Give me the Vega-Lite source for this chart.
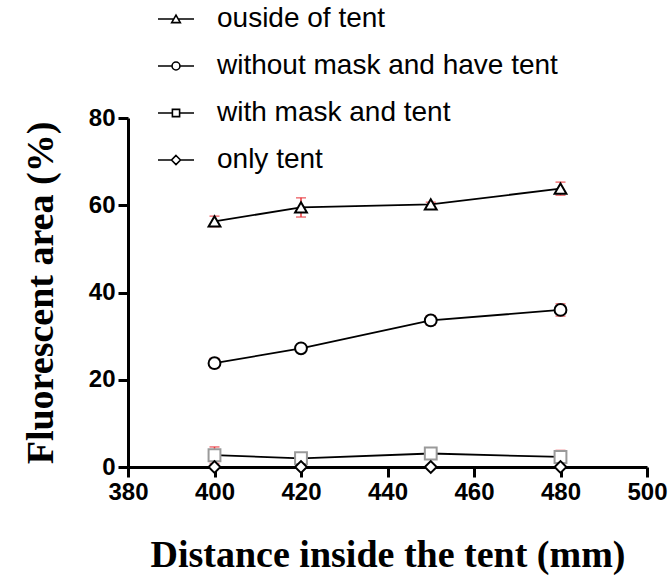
{
  "$schema": "https://vega.github.io/schema/vega-lite/v6.json",
  "width": 519,
  "height": 349,
  "autosize": {"type": "none"},
  "padding": {"left": 128, "top": 118, "right": 23, "bottom": 113},
  "background": "white",
  "config": {"view": {"stroke": null}, "font": "Liberation Sans"},
  "data": {
    "values": [
      {"series": "ouside of tent", "distance": 400, "mean": 56.3, "sd": 1.2},
      {"series": "ouside of tent", "distance": 420, "mean": 59.5, "sd": 2.2},
      {"series": "ouside of tent", "distance": 450, "mean": 60.2, "sd": 0.5},
      {"series": "ouside of tent", "distance": 480, "mean": 63.8, "sd": 1.5},
      {"series": "without mask and have tent", "distance": 400, "mean": 23.8, "sd": 1.1},
      {"series": "without mask and have tent", "distance": 420, "mean": 27.2, "sd": 0.5},
      {"series": "without mask and have tent", "distance": 450, "mean": 33.6, "sd": 1.1},
      {"series": "without mask and have tent", "distance": 480, "mean": 36.0, "sd": 1.4},
      {"series": "with mask and tent", "distance": 400, "mean": 2.7, "sd": 1.9},
      {"series": "with mask and tent", "distance": 420, "mean": 2.0, "sd": 0.3},
      {"series": "with mask and tent", "distance": 450, "mean": 3.1, "sd": 0.3},
      {"series": "with mask and tent", "distance": 480, "mean": 2.3, "sd": 1.5},
      {"series": "only tent", "distance": 400, "mean": 0, "sd": 0},
      {"series": "only tent", "distance": 420, "mean": 0, "sd": 0},
      {"series": "only tent", "distance": 450, "mean": 0, "sd": 0},
      {"series": "only tent", "distance": 480, "mean": 0, "sd": 0}
    ]
  },
  "encoding": {
    "x": {
      "field": "distance", "type": "quantitative",
      "scale": {"domain": [380, 500], "nice": false, "zero": false},
      "axis": {
        "title": "Distance inside the tent (mm)",
        "values": [380, 400, 420, 440, 460, 480, 500],
        "grid": false, "labelFlush": false,
        "domainWidth": 3, "domainColor": "black",
        "tickColor": "black", "tickWidth": 3, "tickSize": 10,
        "labelFont": "Liberation Sans", "labelFontWeight": "bold", "labelFontSize": 24, "labelColor": "black", "labelPadding": 3,
        "titleFont": "Liberation Serif", "titleFontSize": 38, "titleFontWeight": "bold", "titleColor": "black", "titlePadding": 32
      }
    },
    "y": {
      "field": "mean", "type": "quantitative",
      "scale": {"domain": [0, 80], "nice": false},
      "axis": {
        "title": "Fluorescent area (%)",
        "values": [0, 20, 40, 60, 80],
        "grid": false, "labelFlush": false,
        "domainWidth": 3, "domainColor": "black",
        "tickColor": "black", "tickWidth": 3, "tickSize": 10,
        "labelFont": "Liberation Sans", "labelFontWeight": "bold", "labelFontSize": 24, "labelColor": "black", "labelPadding": 3,
        "titleFont": "Liberation Serif", "titleFontSize": 38, "titleFontWeight": "bold", "titleColor": "black", "titlePadding": 28
      }
    }
  },
  "layer": [
    {
      "mark": {"type": "errorbar", "color": "#e8383d", "thickness": 1.5, "ticks": {"size": 10, "thickness": 1.5, "color": "#e8383d"}},
      "encoding": {"yError": {"field": "sd"}, "detail": {"field": "series"}}
    },
    {
      "mark": {"type": "line", "color": "black"},
      "encoding": {
        "detail": {"field": "series"},
        "strokeWidth": {"field": "series", "type": "nominal", "scale": {"domain": ["ouside of tent", "without mask and have tent", "with mask and tent", "only tent"], "range": [1.8, 1.8, 1.2, 1.8]}, "legend": null}
      }
    },
    {
      "mark": {"type": "point", "filled": false, "color": "black", "opacity": 0, "strokeWidth": 1.6},
      "encoding": {
        "shape": {
          "field": "series", "type": "nominal",
          "scale": {"domain": ["ouside of tent", "without mask and have tent", "with mask and tent", "only tent"],
                    "range": [
                      "M-1,0H-0.12M0.12,0H1M0,-0.22L0.24,0.2L-0.24,0.2Z",
                      "M-1,0H-0.22M0.22,0H1M-0.22,0A0.22,0.22,0,1,0,0.22,0A0.22,0.22,0,1,0,-0.22,0Z",
                      "M-1,0H-0.2M0.2,0H1M-0.2,-0.2H0.2V0.2H-0.2Z",
                      "M-1,0H-0.25M0.25,0H1M0,-0.25L0.25,0L0,0.25L-0.25,0Z"
                    ]},
          "legend": {
            "orient": "none", "legendX": 29, "legendY": -118, "title": null, "padding": 0,
            "symbolSize": 1296, "symbolStrokeWidth": 1.6, "symbolStrokeColor": "black", "symbolOpacity": 1,
            "labelFont": "Liberation Sans", "labelFontSize": 28, "labelColor": "black", "labelOffset": 22, "rowPadding": 14, "labelLimit": 600
          }
        }
      }
    },
    {
      "mark": {"type": "point", "filled": false, "fill": "white", "fillOpacity": 1, "opacity": 1, "size": 140, "strokeWidth": 2},
      "encoding": {
        "shape": {"field": "series", "type": "nominal", "scale": {"domain": ["ouside of tent", "without mask and have tent", "with mask and tent", "only tent"], "range": ["triangle-up", "circle", "square", "diamond"]}, "legend": null},
        "stroke": {"field": "series", "type": "nominal", "scale": {"domain": ["ouside of tent", "without mask and have tent", "with mask and tent", "only tent"], "range": ["black", "black", "#9a9a9a", "black"]}, "legend": null}
      }
    }
  ],
  "resolve": {"scale": {"shape": "independent", "stroke": "independent"}, "legend": {"shape": "independent", "stroke": "independent"}}
}
